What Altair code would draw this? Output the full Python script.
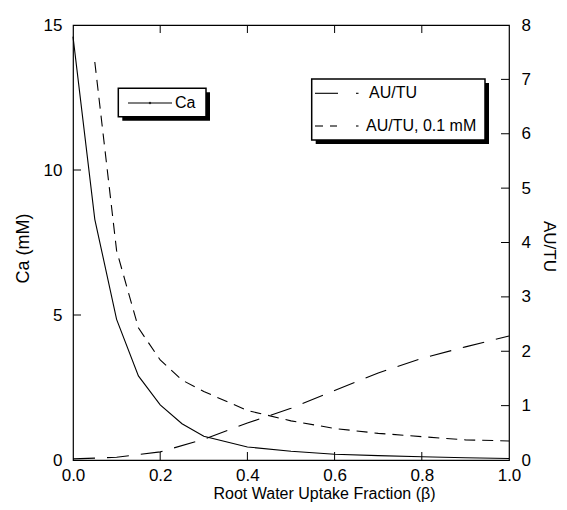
import altair as alt
import pandas as pd

# ---- data ----
beta_ca = [0.0, 0.05, 0.1, 0.15, 0.2, 0.25, 0.3, 0.4, 0.5, 0.6, 0.7, 0.8, 0.9, 1.0]
ca_mM = [14.6, 8.3, 4.85, 2.9, 1.9, 1.25, 0.82, 0.45, 0.3, 0.2, 0.15, 0.11, 0.08, 0.05]

beta_au = [0.0, 0.1, 0.2, 0.3, 0.4, 0.5, 0.6, 0.7, 0.8, 0.9, 1.0]
au_tu = [0.02, 0.05, 0.15, 0.38, 0.68, 0.95, 1.28, 1.6, 1.87, 2.08, 2.28]

beta_au01 = [0.05, 0.1, 0.15, 0.2, 0.25, 0.3, 0.4, 0.5, 0.6, 0.7, 0.8, 0.9, 1.0]
au_tu_01 = [7.32, 3.85, 2.43, 1.84, 1.47, 1.26, 0.91, 0.72, 0.58, 0.49, 0.43, 0.37, 0.35]

series_names = ["AU/TU", "AU/TU, 0.1 mM"]
x_ticks = [0.0, 0.2, 0.4, 0.6, 0.8, 1.0]
x_inner_ticks = [0.2, 0.4, 0.6, 0.8]
left_ticks = [0, 5, 10, 15]
left_inner_ticks = [5, 10]
right_ticks = [0, 1, 2, 3, 4, 5, 6, 7, 8]
right_inner_ticks = [1, 2, 3, 4, 5, 6, 7]

FONT = "Liberation Sans"
W, H = 436, 435
TICK = 8

ca_df = pd.DataFrame({"beta": beta_ca, "ca": ca_mM})
au_df = pd.concat([
    pd.DataFrame({"beta": beta_au, "au": au_tu, "series": series_names[0]}),
    pd.DataFrame({"beta": beta_au01, "au": au_tu_01, "series": series_names[1]}),
])
xt_df = pd.DataFrame({"beta": x_inner_ticks})
lt_df = pd.DataFrame({"ca": left_inner_ticks})
rt_df = pd.DataFrame({"au": right_inner_ticks})
one = pd.DataFrame({"k": [0]})

x_scale = alt.Scale(domain=[0, 1], nice=False, zero=False)
yl_scale = alt.Scale(domain=[0, 15], nice=False)
yr_scale = alt.Scale(domain=[0, 8], nice=False)

x_axis = alt.Axis(
    title="Root Water Uptake Fraction (β)", values=x_ticks, format=".1f",
    ticks=False, domain=False, grid=False, labelPadding=7, labelFlush=False,
    titleX=251, titleY=38.5, titleBaseline="alphabetic", titleAlign="center",
    titleFontSize=16,
)
yl_axis = alt.Axis(
    title="Ca (mM)", values=left_ticks, ticks=False, domain=False, grid=False,
    labelPadding=11, titleX=-44.5, titleY=223, titleAngle=270,
    titleBaseline="alphabetic", titleAlign="center",
)
yr_axis = alt.Axis(
    title="AU/TU", orient="right", values=right_ticks, ticks=False, domain=False,
    grid=False, labelPadding=12, titleX=34.5, titleY=221, titleAngle=90,
    titleBaseline="alphabetic", titleAlign="center", titleFontSize=17,
)

X = alt.X("beta:Q", scale=x_scale, axis=x_axis)
YL = alt.Y("ca:Q", scale=yl_scale, axis=yl_axis)
YR = alt.Y("au:Q", scale=yr_scale, axis=yr_axis)

ca_line = alt.Chart(ca_df).mark_line(color="black", strokeWidth=1.1).encode(x=X, y=YL)
bottom_ticks = alt.Chart(xt_df).mark_rule(color="black", strokeWidth=1).encode(
    x=X, y=alt.value(H), y2=alt.value(H - TICK),
)
top_ticks = alt.Chart(xt_df).mark_rule(color="black", strokeWidth=1).encode(
    x=X, y=alt.value(0), y2=alt.value(TICK),
)
l_ticks = alt.Chart(lt_df).mark_rule(color="black", strokeWidth=1).encode(
    y=YL, x=alt.value(0), x2=alt.value(TICK),
)
left_layer = alt.layer(ca_line, bottom_ticks, top_ticks, l_ticks)

au_lines = alt.Chart(au_df).mark_line(color="black", strokeWidth=1.1).encode(
    x=X, y=YR,
    strokeDash=alt.StrokeDash(
        "series:N",
        scale=alt.Scale(domain=series_names, range=[[22, 12], [11, 7]]),
        legend=None,
    ),
)
r_ticks = alt.Chart(rt_df).mark_rule(color="black", strokeWidth=1).encode(
    y=YR, x=alt.value(W - TICK), x2=alt.value(W),
)


def box(x0, x1, y0, y1):
    shadow = alt.Chart(one).mark_rect(color="black").encode(
        x=alt.value(x0 + 4), x2=alt.value(x1 + 4),
        y=alt.value(y0 + 4), y2=alt.value(y1 + 4),
    )
    face = alt.Chart(one).mark_rect(fill="white", stroke="black", strokeWidth=1.5).encode(
        x=alt.value(x0), x2=alt.value(x1), y=alt.value(y0), y2=alt.value(y1),
    )
    return [shadow, face]


def seg(x0, x1, y):
    return alt.Chart(one).mark_rule(color="black", strokeWidth=1.1).encode(
        x=alt.value(x0), x2=alt.value(x1), y=alt.value(y),
    )


def label(txt, x, y):
    return alt.Chart(one).mark_text(
        align="left", baseline="middle", font=FONT, fontSize=16, color="black"
    ).encode(x=alt.value(x), y=alt.value(y), text=alt.value(txt))


deco = []
# Ca legend
deco += box(45.3, 133, 63.3, 91.7)
deco += [seg(55, 99, 78)]
deco += [alt.Chart(one).mark_point(filled=True, color="black", size=6).encode(
    x=alt.value(77), y=alt.value(78))]
deco += [label("Ca", 102, 77.5)]
# AU/TU legend
deco += box(238.7, 412, 54, 115)
deco += [seg(242, 265, 68.3), seg(283, 285.5, 68.3), label("AU/TU", 296, 68.3)]
deco += [seg(242, 250, 101), seg(257, 264, 101), seg(283, 285.5, 101),
         label("AU/TU, 0.1 mM", 293, 101)]

right_layer = alt.layer(au_lines, r_ticks, *deco)

chart = alt.layer(left_layer, right_layer).resolve_scale(y="independent").properties(
    width=W, height=H,
    autosize=alt.AutoSizeParams(type="none"),
    padding={"left": 65, "top": 17, "right": 50, "bottom": 42},
).configure_view(
    stroke="black", strokeWidth=1.2,
).configure_axis(
    labelFont=FONT, titleFont=FONT, labelFontSize=17, titleFontSize=18,
    labelColor="black", titleColor="black", titleFontWeight="normal",
)

chart.save("out.html", embed_options={"renderer": "svg", "actions": False})
